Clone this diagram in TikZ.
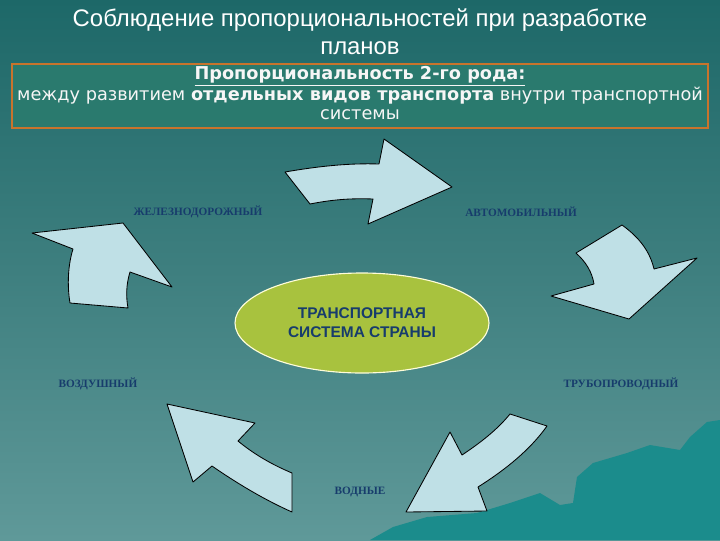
\documentclass[tikz,border=0pt]{standalone}
\usepackage{fontspec}
\setmainfont{Liberation Sans}
\newfontfamily\verd{DejaVu Sans}
\newfontfamily\tms{Liberation Serif}
\usetikzlibrary{shapes.geometric}
\definecolor{bgtop}{HTML}{1D6868}
\definecolor{bgmid}{HTML}{3E7F7F}
\definecolor{bgbot}{HTML}{5F9999}
\definecolor{boxfill}{HTML}{2A7A6E}
\definecolor{boxline}{HTML}{C8742C}
\definecolor{arrowfill}{HTML}{BFE0E6}
\definecolor{lbl}{HTML}{173C6C}
\definecolor{ellfill}{HTML}{A8C23E}
\definecolor{mount}{HTML}{1B8C8C}
\tikzset{
  bigarrow/.style={fill=arrowfill, draw=black, line width=0.6pt, line join=round},
  mode/.style={font=\tms\bfseries\fontsize{8}{9}\selectfont, text=lbl, inner sep=0pt},
}
\begin{document}
\begin{tikzpicture}[x=0.025cm,y=-0.025cm]
\useasboundingbox (0,0) rectangle (720,540);
% background
\shade[top color=bgtop, bottom color=bgmid] (0,0) rectangle (720,270);
\shade[top color=bgmid, bottom color=bgbot] (0,270) rectangle (720,540);
% mountains bottom right
\fill[mount] (370,540) -- (393,527) -- (427,517) -- (477,513) -- (510,503) -- (540,493)
  -- (560,505) -- (573,503) -- (577,477) -- (593,463) -- (627,453) -- (650,445)
  -- (680,450) -- (690,437) -- (707,422) -- (720,420) -- (720,540) -- cycle;
% title
\node[font=\fontsize{17}{20}\selectfont, text=white, align=center] (title) at (360,32)
  {Соблюдение пропорциональностей при разработке\\планов};
% header box
\draw[boxline, line width=1.5pt, fill=boxfill] (12,64) rectangle (708,128);
\node[font=\verd\fontsize{12.6}{13}\selectfont, text=white!93!gray, align=center] (sub) at (360,93)
  {\textbf{\underline{Пропорциональность 2-го рода:}}\\
   между развитием \textbf{отдельных видов транспорта} внутри транспортной\\системы};
% ellipse
\node[ellipse, fill=ellfill, draw=white!85!yellow, line width=0.8pt, minimum width=254*0.025cm, minimum height=100*0.025cm,
  font=\bfseries\fontsize{11}{13.5}\selectfont, text=lbl, align=center] (sys) at (362,323)
  {ТРАНСПОРТНАЯ\\СИСТЕМА СТРАНЫ};
% labels
\node[mode] (rail) at (198,212) {ЖЕЛЕЗНОДОРОЖНЫЙ};
\node[mode] (auto) at (521,212) {АВТОМОБИЛЬНЫЙ};
\node[mode] (air) at (98,384) {ВОЗДУШНЫЙ};
\node[mode] (pipe) at (621,384) {ТРУБОПРОВОДНЫЙ};
\node[mode] (water) at (360,492) {ВОДНЫЕ};
% arrow top
\draw[bigarrow] (285,172) .. controls (320,166) and (350,163) .. (379,164) -- (384,139) -- (452,187)
  -- (368,224) -- (373,199) .. controls (350,198) and (330,200) .. (310,204) -- cycle;
% arrow right
\draw[bigarrow] (576,253) -- (622,225) .. controls (640,238) and (650,252) .. (654,269) -- (697,258)
  -- (629,319) -- (551,296) -- (594,284) .. controls (592,272) and (586,262) .. (576,253) -- cycle;
% arrow bottom right
\draw[bigarrow] (510,414) -- (547,426) .. controls (530,450) and (505,470) .. (478,487) -- (487,511)
  -- (406,512) -- (450,432) -- (462,455) .. controls (480,443) and (497,430) .. (510,414) -- cycle;
% arrow bottom left
\draw[bigarrow] (167,404) -- (255,423) -- (238,441) .. controls (255,455) and (273,465) .. (292,473)
  -- (292,512) .. controls (265,500) and (238,484) .. (212,466) -- (193,482) -- cycle;
% arrow left
\draw[bigarrow] (32,233) -- (123,223) -- (172,287) -- (130,272) .. controls (126,285) and (126,297) .. (128,308)
  -- (70,303) .. controls (67,285) and (68,265) .. (73,249) -- cycle;
\end{tikzpicture}
\end{document}
